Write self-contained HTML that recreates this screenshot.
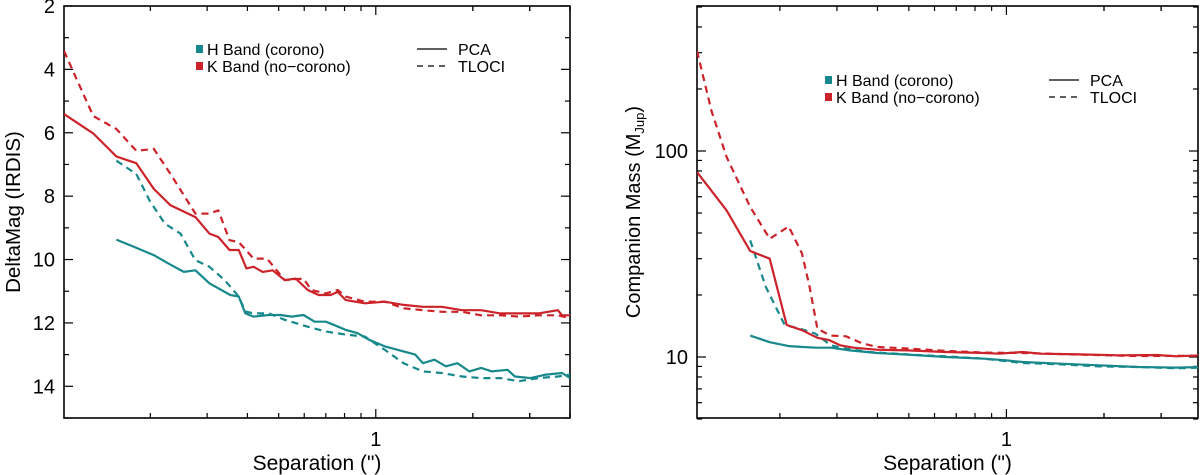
<!DOCTYPE html>
<html><head><meta charset="utf-8"><style>
html,body{margin:0;padding:0;background:#fff;}
svg{display:block;font-family:"Liberation Sans",sans-serif;}
</style></head><body>
<svg id="c" width="1200" height="475" viewBox="0 0 1200 475" xmlns="http://www.w3.org/2000/svg"></svg>
<script>
// ---- Left panel data (DeltaMag vs separation) ----
const kPcaSepL=[0.108,0.133,0.157,0.181,0.205,0.231,0.276,0.305,0.325,0.352,0.376,0.397,0.418,0.446,0.479,0.522,0.565,0.615,0.665,0.725,0.762,0.807,0.925,1.067,1.22,1.40,1.60,1.85,2.12,2.43,2.78,3.19,3.67,3.78,4.0];
const kPcaMag=[5.41,6.02,6.75,6.96,7.77,8.29,8.66,9.18,9.29,9.7,9.7,10.28,10.23,10.39,10.34,10.65,10.6,10.96,11.12,11.12,11.02,11.28,11.38,11.33,11.43,11.49,11.49,11.6,11.6,11.7,11.7,11.7,11.6,11.76,11.76];
const kTlociSepL=[0.108,0.133,0.157,0.181,0.205,0.231,0.276,0.305,0.325,0.352,0.376,0.418,0.46,0.522,0.597,0.631,0.7,0.762,0.807,0.925,1.067,1.22,1.40,1.6,1.85,2.12,2.43,2.78,3.19,3.67,4.0];
const kTlociMag=[3.42,5.47,5.88,6.57,6.51,7.3,8.55,8.55,8.45,9.39,9.45,9.97,9.97,10.65,10.6,10.96,11.07,10.96,11.17,11.33,11.33,11.54,11.6,11.65,11.65,11.76,11.76,11.8,11.76,11.76,11.85];
const hPcaSepL=[0.157,0.205,0.228,0.254,0.276,0.305,0.354,0.376,0.394,0.418,0.466,0.506,0.549,0.597,0.646,0.7,0.74,0.807,0.877,0.952,1.067,1.22,1.326,1.40,1.52,1.65,1.79,1.95,2.12,2.29,2.56,2.70,3.02,3.37,3.78,4.0];
const hPcaMag=[9.37,9.86,10.13,10.39,10.34,10.75,11.12,11.17,11.7,11.8,11.75,11.75,11.8,11.75,11.96,11.96,12.06,12.22,12.32,12.53,12.74,12.9,13.0,13.27,13.16,13.37,13.27,13.53,13.42,13.53,13.48,13.69,13.74,13.63,13.58,13.74];
const hTlociSepL=[0.157,0.181,0.199,0.222,0.248,0.276,0.305,0.34,0.376,0.394,0.418,0.466,0.522,0.615,0.7,0.807,0.925,1.067,1.22,1.40,1.6,1.85,2.12,2.43,2.78,3.19,3.67,4.0];
const hTlociMag=[6.88,7.3,8.14,8.87,9.18,10.02,10.23,10.65,11.17,11.64,11.7,11.7,11.9,12.12,12.27,12.37,12.43,12.85,13.27,13.53,13.58,13.69,13.74,13.74,13.84,13.74,13.69,13.63];
const magTicks=[2,4,6,8,10,12,14];
// ---- Right panel data (companion mass vs separation) ----
const kPcaSepR=[0.111,0.137,0.162,0.186,0.21,0.234,0.261,0.283,0.307,0.338,0.398,0.495,0.65,0.854,0.95,1.12,1.28,1.69,2.22,2.91,3.34,3.98];
const kPcaMass=[79,51.5,32.7,30,14.3,13.5,12.4,12.1,11.4,11.1,10.85,10.77,10.57,10.46,10.38,10.57,10.38,10.3,10.19,10.23,10.08,10.19];
const kTlociSepR=[0.111,0.123,0.137,0.162,0.186,0.213,0.234,0.247,0.261,0.287,0.32,0.357,0.398,0.495,0.65,0.854,1.12,1.69,2.54,3.98];
const kTlociMass=[306,157,93.5,53.5,37.5,43,31.8,21.9,13.7,12.7,12.6,11.7,11.2,11.0,10.7,10.5,10.46,10.27,10.1,10.15];
const hPcaSepR=[0.162,0.186,0.213,0.257,0.287,0.329,0.398,0.495,0.65,0.854,1.0,1.12,1.47,1.93,2.54,3.34,3.98];
const hPcaMass=[12.7,11.8,11.3,11.1,11.1,10.77,10.46,10.27,10.0,9.81,9.63,9.46,9.28,9.11,8.94,8.88,8.94];
const hTlociSepR=[0.162,0.181,0.207,0.231,0.257,0.287,0.32,0.377,0.495,0.65,0.854,1.12,1.47,1.93,2.54,3.34,3.98];
const hTlociMass=[36.8,21.9,14.3,13.7,13.0,11.4,10.97,10.57,10.3,10.07,9.81,9.35,9.21,9.0,8.94,8.82,8.88];
const massTicks=[10,100];
const sepTicks=[1];
const RED="#cc2229", TEAL="#17888b";
const svg=document.getElementById('c');
const NS="http://www.w3.org/2000/svg";
function mk(tag,attrs,parent){const e=document.createElementNS(NS,tag);for(const k in attrs)e.setAttribute(k,attrs[k]);(parent||svg).appendChild(e);return e;}
function panel(P){
  const g=mk('g',{});
  
  
  const xs=v=>P.x0+(Math.log10(v)-Math.log10(P.xmin))/(Math.log10(P.xmax)-Math.log10(P.xmin))*(P.x1-P.x0);
  const ys=P.ys;
  for(let d=-1;d<=0;d++)for(let m=1;m<=9;m++){const v=m*Math.pow(10,d);if(v<P.xmin||v>P.xmax)continue;const x=xs(v);const L=(v===1)?9:5;
    mk('line',{x1:x,x2:x,y1:P.y1,y2:P.y1-L,stroke:'#000','stroke-width':1.2},g);mk('line',{x1:x,x2:x,y1:P.y0,y2:P.y0+L,stroke:'#000','stroke-width':1.2},g);}
  for(let m=2;m<=4;m++){const v=m;if(v>P.xmax)continue;const x=xs(v);const L=5;
    mk('line',{x1:x,x2:x,y1:P.y1,y2:P.y1-L,stroke:'#000','stroke-width':1.2},g);mk('line',{x1:x,x2:x,y1:P.y0,y2:P.y0+L,stroke:'#000','stroke-width':1.2},g);}
  sepTicks.forEach(v=>{const t=mk('text',{x:xs(v),y:P.y1+28,'text-anchor':'middle','font-size':20},g);t.textContent=String(v);
    
    });
  P.yTicks(g,ys);
  mk('rect',{x:P.x0,y:P.y0,width:P.x1-P.x0,height:P.y1-P.y0,fill:'none',stroke:'#000','stroke-width':1.6},g);
  const xt=mk('text',{x:(P.x0+P.x1)/2,y:470,'text-anchor':'middle','font-size':21},g);xt.textContent='Separation (")';
  
  
  const cp=mk('clipPath',{id:'cp'+P.name},g);mk('rect',{x:P.x0,y:P.y0,width:P.x1-P.x0,height:P.y1-P.y0},cp);
  P.series.forEach(s=>{
    const d=s.x.map((v,i)=>(i?'L':'M')+xs(v).toFixed(1)+','+ys(s.y[i]).toFixed(1)).join('');
    const p=mk('path',{d:d,fill:'none',stroke:s.c,'stroke-width':2.2,'stroke-linejoin':'round','clip-path':'url(#cp'+P.name+')'},g);
    if(s.dash)p.setAttribute('stroke-dasharray','7,5');
    
    
  });
  const L=P.leg;
  const lg=mk('g',{},g);
  
  
  [['H Band (corono)',TEAL],['K Band (no\u2212corono)',RED]].forEach((e,i)=>{
    mk('rect',{x:L.x,y:L.y+i*17-4,width:7,height:8,fill:e[1]},lg);
    const t=mk('text',{x:L.x+11,y:L.y+i*17+6,'font-size':16},lg);t.textContent=e[0];
    
    
  });
  [['PCA',false],['TLOCI',true]].forEach((e,i)=>{
    const l=mk('line',{x1:L.lx,x2:L.lx+30,y1:L.y+i*17,y2:L.y+i*17,stroke:'#000','stroke-width':1.3},lg);
    if(e[1])l.setAttribute('stroke-dasharray','6,5');
    const t=mk('text',{x:L.lx+41,y:L.y+i*17+6,'font-size':16},lg);t.textContent=e[0];
    
    
  });
}
const ysL=v=>6+(v-2)/13*412;
panel({name:'deltamag-panel',x0:64,x1:570,y0:6,y1:418,xmin:0.108,xmax:4.0,ys:ysL,
 yTicks:(g,ys)=>{
   for(let v=2;v<=15;v++){const y=ys(v);const L=(v%2===0)?9:5;
     mk('line',{x1:64,x2:64+L,y1:y,y2:y,stroke:'#000','stroke-width':1.2},g);mk('line',{x1:570,x2:570-L,y1:y,y2:y,stroke:'#000','stroke-width':1.2},g);}
   magTicks.forEach(v=>{const t=mk('text',{x:55,y:ys(v)+7,'text-anchor':'end','font-size':20},g);t.textContent=v;
     
     });
   const t=mk('text',{x:0,y:0,'text-anchor':'middle','font-size':20.5,transform:'translate(20,212) rotate(-90)'},g);t.textContent='DeltaMag (IRDIS)';
   
   
 },
 leg:{x:196,y:49,lx:417},
 series:[{x:hTlociSepL,y:hTlociMag,c:TEAL,dash:true,n:'h-tloci-line'},{x:hPcaSepL,y:hPcaMag,c:TEAL,n:'h-pca-line'},
   {x:kTlociSepL,y:kTlociMag,c:RED,dash:true,n:'k-tloci-line'},{x:kPcaSepL,y:kPcaMag,c:RED,n:'k-pca-line'}]});
const ysR=v=>357-(Math.log10(v)-1)*206;
panel({name:'mass-panel',x0:697,x1:1198,y0:6,y1:418,xmin:0.111,xmax:3.9,ys:ysR,
 yTicks:(g,ys)=>{
   for(let d=0;d<=2;d++)for(let m=1;m<=9;m++){const v=m*Math.pow(10,d);if(v<5||v>500)continue;const y=ys(v);const L=(m===1)?9:5;
     mk('line',{x1:697,x2:697+L,y1:y,y2:y,stroke:'#000','stroke-width':1.2},g);mk('line',{x1:1198,x2:1198-L,y1:y,y2:y,stroke:'#000','stroke-width':1.2},g);}
   massTicks.forEach(v=>{const t=mk('text',{x:688,y:ys(v)+7,'text-anchor':'end','font-size':20},g);t.textContent=v;
     
     });
   const t=mk('text',{x:0,y:0,'text-anchor':'middle','font-size':20,transform:'translate(640,212) rotate(-90)'},g);
   
   
   t.appendChild(document.createTextNode('Companion Mass (M'));
   const s=mk('tspan',{'font-size':13,dy:4},t);s.textContent='Jup';
   const s2=mk('tspan',{dy:-4},t);s2.textContent=')';
 },
 leg:{x:825,y:80,lx:1049},
 series:[{x:hTlociSepR,y:hTlociMass,c:TEAL,dash:true,n:'h-tloci-line'},{x:hPcaSepR,y:hPcaMass,c:TEAL,n:'h-pca-line'},
   {x:kTlociSepR,y:kTlociMass,c:RED,dash:true,n:'k-tloci-line'},{x:kPcaSepR,y:kPcaMass,c:RED,n:'k-pca-line'}]});
</script>
</body></html>
